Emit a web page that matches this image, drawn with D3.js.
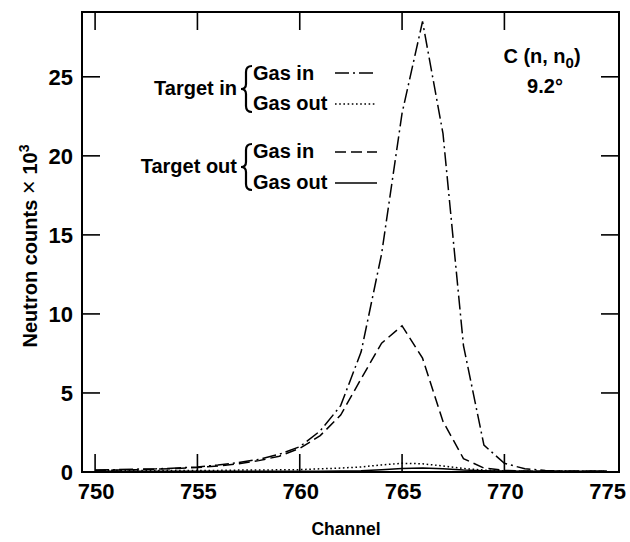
<!DOCTYPE html>
<html>
<head>
<meta charset="utf-8">
<script src="https://cdn.jsdelivr.net/npm/d3@7"></script>
<style>
  body { margin: 0; background: #fff; }
  text { font-family: "Liberation Sans", Arial, sans-serif; font-weight: bold; fill: #000; }
</style>
</head>
<body>
<div id="chart"></div>
<script>
// channel numbers and counts (x 10^3)
const channels = [750, 751, 752, 753, 754, 755, 756, 757, 758, 759, 760, 761, 762,
                  763, 764, 765, 766, 767, 768, 769, 770, 771, 772, 773, 774, 775];
const targetInGasIn = [0.12, 0.15, 0.18, 0.2, 0.25, 0.32, 0.44, 0.59, 0.8, 1.12, 1.6, 2.6, 4.2,
                       7.6, 13.8, 22.7, 28.5, 21.4, 8.0, 1.7, 0.55, 0.2, 0.1, 0.06, 0.05, 0.05];
const targetInGasOut = [0.1, 0.1, 0.1, 0.1, 0.1, 0.1, 0.1, 0.12, 0.12, 0.14, 0.15, 0.2, 0.25,
                        0.32, 0.45, 0.55, 0.52, 0.38, 0.22, 0.12, 0.08, 0.05, 0.05, 0.05, 0.05, 0.05];
const targetOutGasIn = [0.1, 0.12, 0.15, 0.18, 0.22, 0.28, 0.38, 0.52, 0.72, 1.0, 1.5, 2.3, 3.6,
                        5.9, 8.15, 9.25, 7.2, 3.2, 0.85, 0.25, 0.1, 0.06, 0.05, 0.05, 0.05, 0.05];
const targetOutGasOut = [0.05, 0.05, 0.05, 0.05, 0.05, 0.05, 0.05, 0.05, 0.05, 0.05, 0.05, 0.05, 0.06,
                         0.08, 0.15, 0.22, 0.25, 0.2, 0.12, 0.08, 0.06, 0.04, 0.04, 0.04, 0.04, 0.04];
const xTicks = [750, 755, 760, 765, 770, 775];
const xTickMarks = [750, 755, 760, 765, 770];
const yTicks = [0, 5, 10, 15, 20, 25];

const width = 630, height = 542;
const margin = { top: 12, right: 11, bottom: 70, left: 82 };

const svg = d3.select("#chart").append("svg")
    .attr("width", width)
    .attr("height", height);

const x = d3.scaleLinear()
    .domain([749.36, 775.6])
    .range([margin.left, width - margin.right]);

const y = d3.scaleLinear()
    .domain([0, 29.1])
    .range([height - margin.bottom, margin.top]);

const tickLen = 18;

// frame
svg.append("rect")
    .attr("x", x.range()[0])
    .attr("y", y.range()[1])
    .attr("width", x.range()[1] - x.range()[0])
    .attr("height", y.range()[0] - y.range()[1])
    .attr("fill", "none")
    .attr("stroke", "#000")
    .attr("stroke-width", 2);

// inward ticks on all four sides
const ticks = svg.append("g").attr("stroke", "#000").attr("stroke-width", 1.6);
xTickMarks.forEach(d => {
    ticks.append("line").attr("x1", x(d)).attr("x2", x(d))
        .attr("y1", y(0)).attr("y2", y(0) - tickLen);
    ticks.append("line").attr("x1", x(d)).attr("x2", x(d))
        .attr("y1", y.range()[1]).attr("y2", y.range()[1] + tickLen);
});
yTicks.filter(d => d > 0).forEach(d => {
    ticks.append("line").attr("y1", y(d)).attr("y2", y(d))
        .attr("x1", x.range()[0]).attr("x2", x.range()[0] + tickLen);
    ticks.append("line").attr("y1", y(d)).attr("y2", y(d))
        .attr("x1", x.range()[1]).attr("x2", x.range()[1] - tickLen);
});

// tick labels
svg.append("g").selectAll("text")
    .data(xTicks)
    .join("text")
    .attr("x", d => x(d) + 1)
    .attr("y", y(0) + 27)
    .attr("text-anchor", "middle")
    .attr("font-size", 22)
    .text(d => d);

svg.append("g").selectAll("text")
    .data(yTicks)
    .join("text")
    .attr("x", x.range()[0] - 9)
    .attr("y", d => y(d) + 8)
    .attr("text-anchor", "end")
    .attr("font-size", 22)
    .text(d => d);

// axis titles
svg.append("text")
    .attr("x", 346)
    .attr("y", 535)
    .attr("text-anchor", "middle")
    .attr("font-size", 17.5)
    .text("Channel");

const yTitle = svg.append("text")
    .attr("transform", `translate(37,${(y(0) + y.range()[1]) / 2 + 4}) rotate(-90)`)
    .attr("text-anchor", "middle")
    .attr("font-size", 20);
yTitle.append("tspan").text("Neutron counts ");
yTitle.append("tspan").attr("font-weight", "normal").attr("font-size", 24).text("\u00d7");
yTitle.append("tspan").text(" 10");
yTitle.append("tspan").attr("font-size", 14).attr("dy", -8).text("3");

// curves
const series = [
    { values: targetInGasIn, dash: "14,4,2,4" },
    { values: targetInGasOut, dash: "1.6,2.6" },
    { values: targetOutGasIn, dash: "11,5" },
    { values: targetOutGasOut, dash: null }
];

const line = d3.line()
    .x(d => x(d[0]))
    .y(d => y(d[1]));

series.forEach(s => {
    svg.append("path")
        .datum(channels.map((c, i) => [c, s.values[i]]))
        .attr("d", line)
        .attr("fill", "none")
        .attr("stroke", "#000")
        .attr("stroke-width", 1.5)
        .attr("stroke-dasharray", s.dash);
});

// legend
const legendRows = [
    { label: "Gas in", y: 80, lineY: 73, dash: series[0].dash },
    { label: "Gas out", y: 110, lineY: 104, dash: series[1].dash },
    { label: "Gas in", y: 158, lineY: 152, dash: series[2].dash },
    { label: "Gas out", y: 189, lineY: 183, dash: series[3].dash }
];
const legend = svg.append("g");
legendRows.forEach(r => {
    legend.append("text")
        .attr("x", 253)
        .attr("y", r.y)
        .attr("font-size", 20)
        .text(r.label);
    legend.append("line")
        .attr("x1", 335).attr("x2", 377)
        .attr("y1", r.lineY).attr("y2", r.lineY)
        .attr("stroke", "#000")
        .attr("stroke-width", 1.5)
        .attr("stroke-dasharray", r.dash);
});

legend.append("text")
    .attr("x", 237).attr("y", 95)
    .attr("text-anchor", "end")
    .attr("font-size", 20)
    .text("Target in");
legend.append("text")
    .attr("x", 237).attr("y", 173)
    .attr("text-anchor", "end")
    .attr("font-size", 20)
    .text("Target out");

// braces
function brace(xb, top, bottom) {
    const mid = (top + bottom) / 2;
    const p = d3.path();
    p.moveTo(xb + 8, top);
    p.quadraticCurveTo(xb + 2, top, xb + 2, top + 6);
    p.lineTo(xb + 2, mid - 5);
    p.quadraticCurveTo(xb + 2, mid, xb - 3, mid);
    p.quadraticCurveTo(xb + 2, mid, xb + 2, mid + 5);
    p.lineTo(xb + 2, bottom - 6);
    p.quadraticCurveTo(xb + 2, bottom, xb + 8, bottom);
    legend.append("path")
        .attr("d", p.toString())
        .attr("fill", "none")
        .attr("stroke", "#000")
        .attr("stroke-width", 2.2);
}
brace(244, 66, 112);
brace(244, 144, 190);

// annotation
const title = svg.append("text")
    .attr("x", 542).attr("y", 63)
    .attr("text-anchor", "middle")
    .attr("font-size", 20);
title.append("tspan").text("C (n, n");
title.append("tspan").attr("font-size", 15).attr("dy", 5).text("0");
title.append("tspan").attr("dy", -5).text(")");

svg.append("text")
    .attr("x", 545).attr("y", 93)
    .attr("text-anchor", "middle")
    .attr("font-size", 20)
    .text("9.2\u00b0");
</script>
</body>
</html>
